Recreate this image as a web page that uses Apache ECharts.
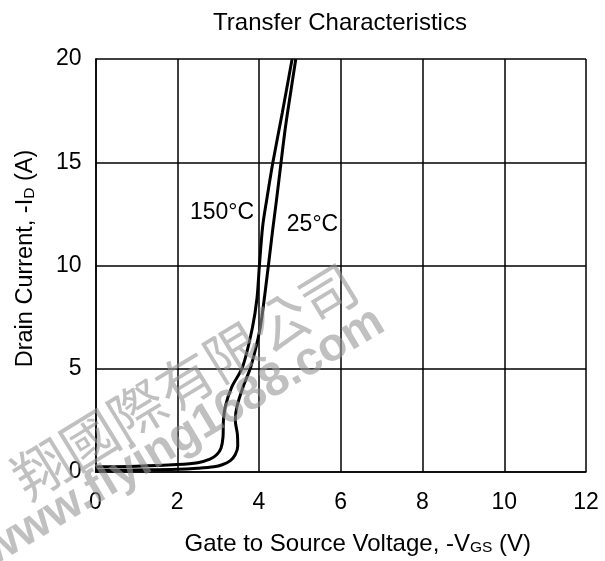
<!DOCTYPE html>
<html>
<head>
<meta charset="utf-8">
<script src="https://cdn.jsdelivr.net/npm/echarts@6/dist/echarts.min.js"></script>
<style>
html,body{margin:0;padding:0;background:#fff;}
#chart{width:605px;height:561px;}
</style>
</head>
<body>
<div id="chart"></div>
<script>
// Data
var vgs150 = [0, 1, 2, 2.5, 2.8, 2.97, 3.07, 3.12, 3.13, 3.18, 3.33, 3.6, 3.84, 3.95, 4.01, 4.09, 4.19, 4.34, 4.57, 4.81];
var id150  = [0.25, 0.28, 0.36, 0.45, 0.62, 0.85, 1.15, 1.7, 2.5, 3.2, 4.1, 5.1, 7.0, 8.4, 10.0, 11.9, 13.2, 15.0, 17.4, 20];
var vgs25  = [0, 1, 2, 2.5, 2.9, 3.1, 3.3, 3.42, 3.48, 3.47, 3.42, 3.46, 3.61, 3.8, 3.98, 4.07, 4.23, 4.33, 4.43, 4.54, 4.63, 4.71, 4.9];
var id25   = [0.08, 0.1, 0.13, 0.18, 0.25, 0.35, 0.55, 0.85, 1.25, 1.85, 2.5, 3.17, 4.12, 5.1, 6.5, 7.5, 10.0, 11.65, 13.2, 15.0, 16.45, 17.55, 20];
var xTicks = [0, 2, 4, 6, 8, 10, 12];
var yTicks = [0, 5, 10, 15, 20];
var curveLabels = [
  {text: '150°C', x: 2.31, y: 12.55},
  {text: '25°C', x: 4.68, y: 12.0}
];
var watermark1 = '翔國際有限公司';
var watermark2 = 'www.flying1688.com';

function pairs(xs, ys){ return xs.map(function(v,i){ return [v, ys[i]]; }); }

var FONT = '"Liberation Sans", Arial, sans-serif';
var chart = echarts.init(document.getElementById('chart'));
var option = {
  animation: false,
  backgroundColor: '#fff',
  title: {
    text: 'Transfer Characteristics',
    left: 335, top: 6, textAlign: 'center',
    textStyle: {fontFamily: FONT, fontSize: 24, fontWeight: 'normal', color: '#000'}
  },
  grid: {left: 95.5, right: 19, top: 59, bottom: 85, show: false},
  xAxis: {
    type: 'value', min: xTicks[0], max: xTicks[xTicks.length-1], interval: 2,
    axisLine: {show: true, lineStyle: {color: '#000', width: 1.5}},
    axisTick: {show: false},
    splitLine: {show: true, lineStyle: {color: '#000', width: 1.5}},
    axisLabel: {fontFamily: FONT, fontSize: 23, color: '#000', margin: 19},
    name: '{n|Gate to Source Voltage, -V}{s|GS}{n| (V)}',
    nameLocation: 'middle', nameGap: 60,
    nameTextStyle: {padding: [0, 0, 0, 34], rich: {
      n: {fontFamily: FONT, fontSize: 24, color: '#000'},
      s: {fontFamily: FONT, fontSize: 15.5, color: '#000', padding: [8,0,0,0]}
    }}
  },
  yAxis: {
    type: 'value', min: yTicks[0], max: yTicks[yTicks.length-1], interval: 5,
    axisLine: {show: true, lineStyle: {color: '#000', width: 1.5}},
    axisTick: {show: false},
    splitLine: {show: true, lineStyle: {color: '#000', width: 1.5}},
    axisLabel: {fontFamily: FONT, fontSize: 23, color: '#000', margin: 14},
    name: '{n|Drain Current, -I}{s|D}{n| (A)}',
    nameLocation: 'middle', nameGap: 58,
    nameTextStyle: {padding: [0, 0, 0, 14], rich: {
      n: {fontFamily: FONT, fontSize: 23.5, color: '#000'},
      s: {fontFamily: FONT, fontSize: 15.5, color: '#000', padding: [8,0,0,0]}
    }}
  },
  series: [
    {
      name: '150°C', type: 'line', data: pairs(vgs150, id150),
      showSymbol: false, smooth: 0.3, clip: true,
      lineStyle: {color: '#000', width: 3}
    },
    {
      name: '25°C', type: 'line', data: pairs(vgs25, id25),
      showSymbol: false, smooth: 0.3, clip: true,
      lineStyle: {color: '#000', width: 3}
    },
    {
      type: 'scatter', symbolSize: 0,
      itemStyle: {opacity: 1, color: '#000'},
      data: curveLabels.map(function(l){ return {value: [l.x, l.y], name: l.text}; }),
      label: {show: true, position: 'right', distance: 0, formatter: '{b}',
        fontFamily: FONT, fontSize: 23, color: '#000', opacity: 1},
      emphasis: {disabled: true},
      silent: true, z: 5
    }
  ],
  graphic: [
    {type: 'text', x: 185, y: 381, rotation: 31.5 * Math.PI / 180, z: 100, silent: true,
      style: {text: watermark1, fill: 'rgba(150,150,150,0.6)', align: 'center', verticalAlign: 'middle',
        font: 'normal 56px "Noto Sans CJK TC", sans-serif'}},
    {type: 'text', x: 183, y: 437, rotation: 31 * Math.PI / 180, z: 100, silent: true,
      style: {text: watermark2, fill: 'rgba(150,150,150,0.6)', align: 'center', verticalAlign: 'middle',
        font: 'bold 47px "Liberation Sans", Arial, sans-serif'}}
  ]
};
chart.setOption(option);
</script>
</body>
</html>
